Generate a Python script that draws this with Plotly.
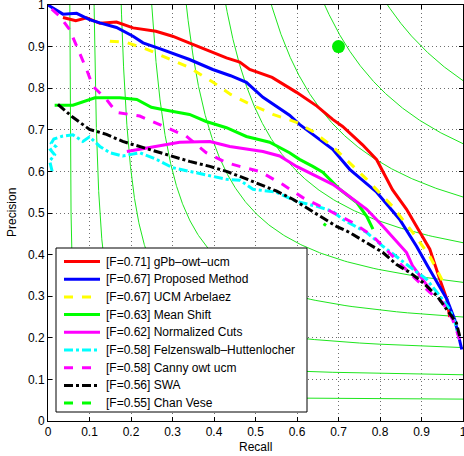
import numpy as np
import plotly.graph_objects as go

# ---- data ----
f_levels = [0.1, 0.2, 0.3, 0.4, 0.5, 0.6, 0.7, 0.8, 0.9]

red_R = [0.036, 0.052, 0.067, 0.093, 0.125, 0.165, 0.205, 0.26, 0.30, 0.34, 0.38, 0.43, 0.462, 0.486, 0.54, 0.599, 0.648, 0.686, 0.71, 0.758, 0.792, 0.83, 0.864, 0.903, 0.92, 0.944, 0.961, 0.968]
red_P = [0.970, 0.965, 0.962, 0.969, 0.956, 0.959, 0.945, 0.937, 0.925, 0.909, 0.893, 0.873, 0.863, 0.845, 0.826, 0.790, 0.757, 0.725, 0.708, 0.664, 0.628, 0.556, 0.509, 0.444, 0.413, 0.341, 0.293, 0.250]

blue_R = [0.0, 0.036, 0.069, 0.1, 0.125, 0.165, 0.205, 0.229, 0.269, 0.317, 0.341, 0.397, 0.44, 0.478, 0.518, 0.582, 0.606, 0.638, 0.686, 0.727, 0.792, 0.847, 0.888, 0.915, 0.937, 0.961, 0.98, 0.997]
blue_P = [1.0, 0.978, 0.980, 0.965, 0.957, 0.946, 0.925, 0.909, 0.895, 0.877, 0.869, 0.845, 0.830, 0.814, 0.778, 0.735, 0.713, 0.689, 0.653, 0.605, 0.550, 0.485, 0.420, 0.372, 0.333, 0.293, 0.244, 0.172]

ucm_R = [0.149, 0.189, 0.237, 0.30, 0.34, 0.397, 0.44, 0.478, 0.542, 0.599, 0.638, 0.686, 0.768, 0.83, 0.879, 0.92, 0.951]
ucm_P = [0.913, 0.910, 0.894, 0.868, 0.850, 0.815, 0.785, 0.766, 0.737, 0.718, 0.696, 0.660, 0.581, 0.516, 0.453, 0.396, 0.336]

ms_R = [0.016, 0.06, 0.113, 0.173, 0.214, 0.249, 0.285, 0.341, 0.381, 0.43, 0.478, 0.534, 0.582, 0.606, 0.638, 0.662, 0.703, 0.744, 0.768, 0.783]
ms_P = [0.759, 0.759, 0.777, 0.777, 0.773, 0.754, 0.747, 0.737, 0.720, 0.705, 0.684, 0.670, 0.645, 0.629, 0.612, 0.598, 0.557, 0.525, 0.492, 0.461]

ncut_R = [0.19, 0.229, 0.317, 0.39, 0.438, 0.518, 0.558, 0.599, 0.648, 0.686, 0.703, 0.768, 0.807, 0.847, 0.864, 0.879, 0.903, 0.92]
ncut_P = [0.648, 0.655, 0.670, 0.672, 0.660, 0.648, 0.637, 0.612, 0.588, 0.569, 0.557, 0.509, 0.468, 0.425, 0.405, 0.372, 0.341, 0.317]

felz_R = [0.010, 0.004, 0.016, 0.006, 0.018, 0.008, 0.014, 0.036, 0.06, 0.084, 0.1, 0.125, 0.149, 0.18, 0.221, 0.261, 0.3, 0.341, 0.381, 0.43, 0.462, 0.494, 0.55, 0.599, 0.648, 0.686, 0.71, 0.768, 0.807, 0.847, 0.879, 0.912, 0.944, 0.968, 0.984, 0.992]
felz_P = [0.600, 0.625, 0.640, 0.652, 0.660, 0.668, 0.678, 0.685, 0.688, 0.672, 0.683, 0.660, 0.645, 0.637, 0.645, 0.629, 0.609, 0.600, 0.591, 0.581, 0.579, 0.557, 0.550, 0.528, 0.516, 0.504, 0.485, 0.453, 0.420, 0.389, 0.365, 0.341, 0.301, 0.268, 0.228, 0.196]

canny_R = [0.009, 0.028, 0.052, 0.069, 0.093, 0.108, 0.141, 0.165, 0.221, 0.277, 0.333, 0.381, 0.43, 0.462, 0.51, 0.565, 0.614, 0.671, 0.734, 0.783, 0.83, 0.872, 0.92, 0.951, 0.975, 0.992]
canny_P = [0.990, 0.973, 0.941, 0.901, 0.845, 0.805, 0.773, 0.742, 0.733, 0.709, 0.685, 0.645, 0.621, 0.612, 0.600, 0.569, 0.537, 0.509, 0.477, 0.444, 0.396, 0.355, 0.309, 0.285, 0.244, 0.196]

swa_R = [0.024, 0.06, 0.1, 0.141, 0.18, 0.221, 0.261, 0.3, 0.341, 0.39, 0.43, 0.47, 0.51, 0.55, 0.59, 0.623, 0.662, 0.695, 0.727, 0.768, 0.807, 0.84, 0.872, 0.903, 0.937, 0.961, 0.984, 0.992]
swa_P = [0.761, 0.730, 0.701, 0.689, 0.672, 0.660, 0.648, 0.637, 0.624, 0.612, 0.600, 0.585, 0.569, 0.553, 0.533, 0.513, 0.489, 0.468, 0.453, 0.429, 0.405, 0.376, 0.357, 0.333, 0.301, 0.268, 0.236, 0.204]

cv_R = [0.664, 0.670]
cv_P = [0.474, 0.470]

human_R = [0.7]
human_P = [0.9]

tick_vals = [0, 0.1, 0.2, 0.3, 0.4, 0.5, 0.6, 0.7, 0.8, 0.9, 1]
tick_text = ["0", "0.1", "0.2", "0.3", "0.4", "0.5", "0.6", "0.7", "0.8", "0.9", "1"]

legend_names = [
    "[F=0.71] gPb\u2013owt\u2013ucm",
    "[F=0.67] Proposed Method",
    "[F=0.67] UCM Arbelaez",
    "[F=0.63] Mean Shift",
    "[F=0.62] Normalized Cuts",
    "[F=0.58] Felzenswalb\u2013Huttenlocher",
    "[F=0.58] Canny owt ucm",
    "[F=0.56] SWA",
    "[F=0.55] Chan Vese",
]
series_R = [red_R, blue_R, ucm_R, ms_R, ncut_R, felz_R, canny_R, swa_R, cv_R]
series_P = [red_P, blue_P, ucm_P, ms_P, ncut_P, felz_P, canny_P, swa_P, cv_P]
series_colors = ["#ff0000", "#0000ff", "#ffff00", "#00ff00", "#ff00ff", "#00ffff", "#ff00ff", "#000000", "#00ff00"]
series_dash = ["solid", "solid", "dash", "solid", "solid", "dashdot", "dash", "dashdot", "dash"]

# ---- layout geometry (pixels) ----
W, H = 464, 456
ML, MR, MT, MB = 48, 1, 5, 35
PW, PH = W - ML - MR, H - MT - MB


def px_x(px):
    return (px - ML) / PW


def px_y(py):
    return (H - MB - py) / PH


fig = go.Figure()

# iso-F contours
for f in f_levels:
    p = np.linspace(f / (2 - f), 1.0, 300)
    r = f * p / (2 * p - f)
    fig.add_trace(go.Scatter(x=r, y=p, mode="lines", showlegend=False, hoverinfo="skip",
                             line=dict(color="#1ee61e", width=1)))

for name, R, P, col, dash in zip(legend_names, series_R, series_P, series_colors, series_dash):
    fig.add_trace(go.Scatter(x=R, y=P, mode="lines", name=name, showlegend=False,
                             line=dict(color=col, width=3, dash=dash)))

fig.add_trace(go.Scatter(x=human_R, y=human_P, mode="markers", showlegend=False,
                         marker=dict(color="#00ee00", size=13)))

# ---- custom legend box (MATLAB style) ----
shapes = [dict(type="rect", xref="paper", yref="paper",
               x0=px_x(56), x1=px_x(307), y0=px_y(412), y1=px_y(248),
               line=dict(color="black", width=1), fillcolor="white", layer="above")]
annotations = []
for i, (name, col, dash) in enumerate(zip(legend_names, series_colors, series_dash)):
    yc = 261.5 + i * 17.7
    shapes.append(dict(type="line", xref="paper", yref="paper",
                       x0=px_x(64), x1=px_x(100), y0=px_y(yc), y1=px_y(yc),
                       line=dict(color=col, width=3, dash=dash), layer="above"))
    annotations.append(dict(xref="paper", yref="paper", x=px_x(104), y=px_y(yc),
                            xanchor="left", yanchor="middle", text=name, showarrow=False,
                            font=dict(size=12, color="black")))

# axis titles
annotations.append(dict(xref="paper", yref="paper", x=0.5, y=px_y(447),
                        xanchor="center", yanchor="middle", text="Recall", showarrow=False,
                        font=dict(size=12, color="black")))
annotations.append(dict(xref="paper", yref="paper", x=px_x(12), y=0.5, textangle=-90,
                        xanchor="center", yanchor="middle", text="Precision", showarrow=False,
                        font=dict(size=12, color="black")))

axis_common = dict(range=[0, 1], tickvals=tick_vals, ticktext=tick_text,
                   ticks="inside", ticklen=4, tickcolor="black",
                   showline=True, linecolor="black", linewidth=1, mirror="ticks",
                   showgrid=True, gridcolor="#6e6e6e", griddash="1px,3px", gridwidth=1,
                   zeroline=False, tickfont=dict(size=12, color="black"),
                   automargin=False, ticklabeloverflow="allow")

fig.update_layout(
    width=W, height=H,
    margin=dict(l=ML, r=MR, t=MT, b=MB),
    paper_bgcolor="white", plot_bgcolor="white",
    font=dict(family="Liberation Sans, Arial, sans-serif", size=12, color="black"),
    xaxis=dict(**axis_common),
    yaxis=dict(**axis_common),
    shapes=shapes,
    annotations=annotations,
    showlegend=False,
)

fig.write_html("out.html", config={"displayModeBar": False},
               post_script="document.body.style.margin='0';document.body.style.padding='0';")
